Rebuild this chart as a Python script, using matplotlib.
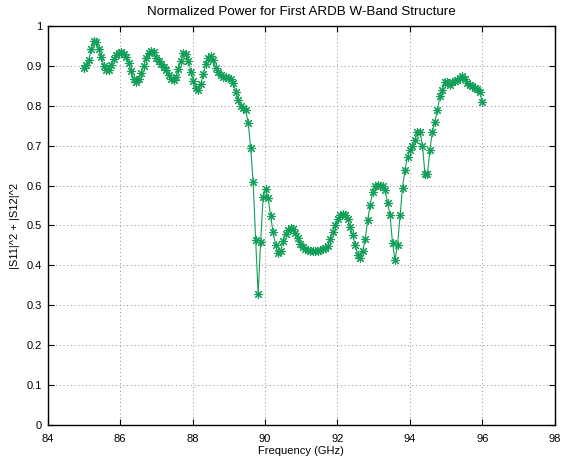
import numpy as np
import matplotlib
matplotlib.use("Agg")
import matplotlib.pyplot as plt

# Sweep: 85-96 GHz, 161 points
freq_ghz = np.linspace(85.0, 96.0, 161)

# |S11|^2 + |S12|^2 at each sweep point
power = [
    0.894, 0.902, 0.915, 0.942, 0.962, 0.958, 0.942, 0.922, 0.900, 0.889,
    0.890, 0.902, 0.916, 0.927, 0.932, 0.933, 0.930, 0.921, 0.906, 0.887,
    0.866, 0.858, 0.866, 0.882, 0.900, 0.918, 0.932, 0.937, 0.933, 0.920,
    0.912, 0.903, 0.896, 0.888, 0.877, 0.867, 0.864, 0.872, 0.892, 0.912,
    0.932, 0.930, 0.912, 0.885, 0.862, 0.845, 0.840, 0.855, 0.880, 0.905,
    0.920, 0.925, 0.915, 0.893, 0.885, 0.876, 0.872, 0.872, 0.869, 0.867,
    0.856, 0.835, 0.815, 0.800, 0.795, 0.789, 0.756, 0.694, 0.608, 0.463,
    0.329, 0.458, 0.571, 0.591, 0.570, 0.524, 0.483, 0.452, 0.431, 0.435,
    0.460, 0.478, 0.489, 0.493, 0.490, 0.480, 0.469, 0.454, 0.445, 0.440,
    0.438, 0.437, 0.436, 0.437, 0.437, 0.438, 0.440, 0.443, 0.449, 0.466,
    0.484, 0.500, 0.515, 0.525, 0.529, 0.526, 0.515, 0.495, 0.476, 0.450,
    0.427, 0.418, 0.435, 0.466, 0.513, 0.552, 0.583, 0.598, 0.601, 0.600,
    0.599, 0.589, 0.556, 0.525, 0.455, 0.414, 0.452, 0.525, 0.595, 0.640,
    0.672, 0.690, 0.700, 0.715, 0.733, 0.735, 0.700, 0.630, 0.628, 0.690,
    0.735, 0.760, 0.788, 0.823, 0.840, 0.859, 0.859, 0.851, 0.860, 0.861,
    0.864, 0.869, 0.874, 0.866, 0.857, 0.852, 0.848, 0.845, 0.842, 0.834,
    0.810,
]

x_ticks = [84, 86, 88, 90, 92, 94, 96, 98]
y_ticks = [0, 0.1, 0.2, 0.3, 0.4, 0.5, 0.6, 0.7, 0.8, 0.9, 1]
y_tick_labels = ["0", "0.1", "0.2", "0.3", "0.4", "0.5", "0.6", "0.7", "0.8", "0.9", "1"]

plt.rcParams["font.family"] = ["Liberation Sans", "DejaVu Sans"]
plt.rcParams["font.size"] = 8

fig = plt.figure(figsize=(5.61, 4.61), dpi=100)
ax = fig.add_axes([0.085, 0.0775, 0.9036, 0.8668])

ax.plot(freq_ghz, power, color="#12a058", linewidth=0.8,
        marker=(8, 2, 0), markersize=6.5, markeredgewidth=0.8)

ax.set_xlim(84, 98)
ax.set_ylim(0, 1)
ax.set_xticks(x_ticks)
ax.set_yticks(y_ticks)
ax.set_yticklabels(y_tick_labels)

ax.grid(True, linestyle=(0, (1, 3.5)), color="#666666", linewidth=0.6)
ax.tick_params(direction="in", top=True, right=True, length=4, width=0.8)
ax.tick_params(axis="x", pad=6)
ax.tick_params(axis="y", pad=4)
for spine in ax.spines.values():
    spine.set_linewidth(1.0)

ax.set_xlabel("Frequency (GHz)", labelpad=2)
ax.set_ylabel("|S11|^2 + |S12|^2", labelpad=5)
ax.set_title("Normalized Power for First ARDB W-Band Structure", pad=8)

fig.savefig("out.png", dpi=100)
